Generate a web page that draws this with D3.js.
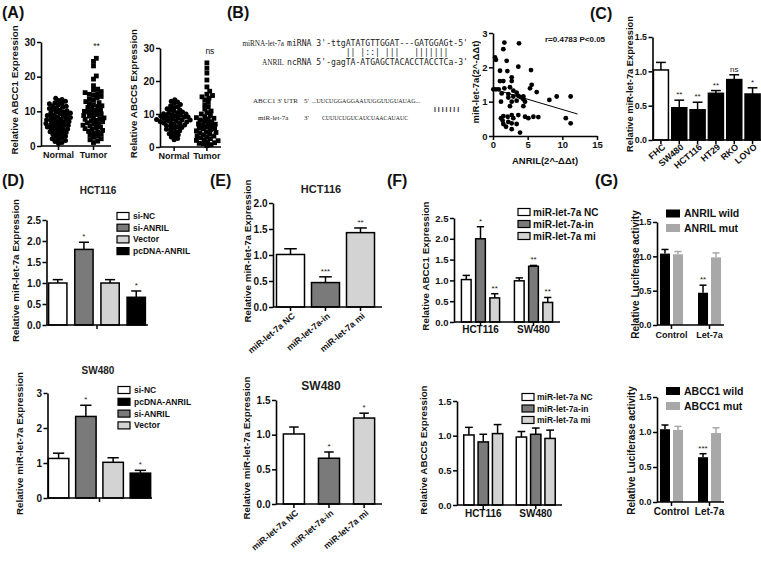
<!DOCTYPE html>
<html><head><meta charset="utf-8">
<script src="https://cdn.jsdelivr.net/npm/d3@7"></script>
<style>body{margin:0;background:#fff} svg text{opacity:0.995}</style>
</head><body>
<script>
// ================= DATA =================
// (A) scatter
const aCats = ["Normal", "Tumor"];
const aTicks = [0, 10, 20, 30];
const abcc1Normal = [13.8,13.4,13.1,12.9,12.5,12.3,12.2,11.9,11.6,11.5,11.2,11.0,10.8,10.5,10.4,10.2,9.9,9.8,9.6,9.5,9.3,9.1,9.0,8.8,8.7,8.5,8.4,8.2,8.0,7.9,7.8,7.6,7.4,7.3,7.1,7.0,6.8,6.7,6.5,6.3,6.2,6.0,5.9,5.7,5.5,5.4,5.2,5.0,4.9,4.7,4.5,4.3,4.1,3.9,3.8,3.6,3.3,3.1,2.8,2.6,2.4,2.1,1.9,1.6,1.3,1.0,0.7];
const abcc1Tumor = [25.3,24.4,23.1,20.2,19.3,17.4,16.4,16.1,15.7,15.4,15.1,14.9,14.6,14.3,13.9,13.5,13.2,12.8,12.5,12.2,11.9,11.6,11.4,11.1,10.8,10.5,10.3,10.0,9.8,9.6,9.3,9.1,8.8,8.6,8.4,8.1,7.9,7.7,7.4,7.2,7.0,6.7,6.5,6.3,6.0,5.8,5.5,5.3,5.0,4.8,4.5,4.2,4.0,3.7,3.4,3.1,2.8,2.5,2.1,1.8,1.4,1.0];
const abcc5Normal = [14.3,13.9,13.6,13.2,12.9,12.5,12.2,11.9,11.6,11.3,11.1,10.8,10.6,10.4,10.2,10.0,9.8,9.7,9.5,9.3,9.1,9.0,8.8,8.6,8.5,8.3,8.1,8.0,7.8,7.6,7.5,7.3,7.1,6.9,6.7,6.5,6.3,6.1,5.9,5.7,5.4,5.2,4.9,4.6,4.3,4.0,3.7,3.4,3.0,2.6,2.2,9.4,8.9,8.2,10.1,7.7];
const abcc5Tumor = [25.5,23.9,22.4,20.3,18.2,16.9,16.0,15.6,15.2,14.8,14.3,13.5,12.8,12.1,11.5,10.9,10.4,10.0,9.6,9.2,8.9,8.5,8.2,7.9,7.6,7.3,7.0,6.7,6.4,6.1,5.8,5.5,5.2,4.9,4.6,4.3,4.0,3.7,3.4,3.1,2.8,2.5,2.2,1.9,1.6,1.3,1.0,0.7,0.4,8.7,6.9,5.6,4.4,3.3,2.0,1.1];
const aSig = ["**", "ns"];

// (B) sequences + correlation
const bMirLabel = "miRNA-let-7a", bMirSeq = "miRNA 3'-ttgATATGTTGGAT---GATGGAGt-5'";
const bPairs = "            || |::| |||   |||||||";
const bAnrilLabel = "ANRIL", bAnrilSeq = "ncRNA 5'-gagTA-ATGAGCTACACCTACCTCa-3'";
const bUtrLabel = "ABCC1 3' UTR", bUtrSeq = "...UUCUGGAGGAAUUGGUUGUAUAG...";
const bUtrPairs = "|||||||";
const bLetLabel = "miR-let-7a", bLetSeq = "CUUUCUGUCAUCUAACAUAUC";
const bX = [0.29,0.43,1.64,1.49,3.75,1.97,1.01,3.65,5.48,2.07,1.0,1.49,2.7,2.7,0.05,0.43,0.82,1.64,2.45,2.93,5.34,5.58,6.3,1.25,2.21,3.41,2.21,2.93,3.65,3.99,4.38,4.38,8.13,9.19,11.2,1.15,2.7,3.41,4.62,2.45,4.38,1.15,1.49,2.12,2.7,2.93,3.65,4.62,5.1,5.82,6.54,1.39,1.49,1.88,2.21,2.7,3.41,2.7,3.9,10.5,11.2];
const bY = [2.29,2.22,2.72,2.53,2.70,2.19,1.90,2.02,1.92,1.89,1.60,1.60,1.60,1.71,1.36,1.36,1.36,1.39,1.42,1.32,1.39,1.49,1.28,1.24,1.22,1.26,1.12,1.15,1.17,1.13,1.15,1.07,1.05,1.15,1.15,1.0,1.0,1.03,1.0,0.87,0.87,0.52,0.58,0.56,0.61,0.52,0.61,0.56,0.52,0.56,0.55,0.45,0.35,0.27,0.41,0.37,0.35,0.20,0.10,0.52,0.37];
const bFitX = [0, 12.2], bFitY = [1.37, 0.64];
const bStat = "r=0.4783 P<0.05";
const bXTicks = [0, 5, 10, 15], bYTicks = [0, 1, 2, 3];

// (C)
const cCats = ["FHC","SW480","HCT116","HT29","RKO","LOVO"];
const cVals = [1.02, 0.47, 0.44, 0.68, 0.88, 0.67];
const cErr  = [0.11, 0.11, 0.11, 0.04, 0.07, 0.09];
const cSig  = ["", "**", "**", "**", "ns", "*"];
const cTicks = [0, 0.5, 1.0, 1.5];

// (D)
const dCats = ["si-NC","si-ANRIL","Vector","pcDNA-ANRIL"];
const dHctVals = [1.0, 1.80, 1.0, 0.66], dHctErr = [0.08, 0.17, 0.08, 0.15], dHctSig = ["","*","","*"];
const dSwVals  = [1.13, 2.33, 1.02, 0.71], dSwErr = [0.15, 0.32, 0.13, 0.08], dSwSig = ["","*","","*"];
const dHctLegend = ["si-NC","si-ANRIL","Vector","pcDNA-ANRIL"];
const dSwLegend  = ["si-NC","pcDNA-ANRIL","si-ANRIL","Vector"];
const dHctTicks = [0,0.5,1.0,1.5,2.0,2.5], dSwTicks = [0,1,2,3];

// (E)
const eCats = ["miR-let-7a NC","miR-let-7a-in","miR-let-7a mi"];
const eHctVals = [1.01, 0.47, 1.43], eHctErr = [0.11, 0.11, 0.09], eHctSig = ["","***","**"];
const eSwVals  = [1.01, 0.66, 1.24], eSwErr = [0.10, 0.09, 0.07], eSwSig = ["","*","*"];
const eHctTicks = [0,0.5,1.0,1.5,2.0], eSwTicks = [0,0.5,1.0,1.5];

// (F)
const fGroups = ["HCT116","SW480"];
const fSeries = ["miR-let-7a NC","miR-let-7a-in","miR-let-7a mi"];
const fAbcc1Vals = [[1.02, 2.0, 0.58],[0.99, 1.34, 0.47]];
const fAbcc1Err  = [[0.10, 0.29, 0.10],[0.07, 0.02, 0.12]];
const fAbcc1Sig  = [["","*","**"],["","**","**"]];
const fAbcc5Vals = [[1.01, 0.91, 1.03],[0.98, 1.02, 0.96]];
const fAbcc5Err  = [[0.11, 0.11, 0.13],[0.08, 0.09, 0.12]];
const fTicks1 = [0,0.5,1.0,1.5,2.0,2.5], fTicks5 = [0,0.5,1.0,1.5];

// (G)
const gGroups = ["Control","Let-7a"];
const gAnrilSeries = ["ANRIL wild","ANRIL mut"];
const gAbccSeries = ["ABCC1 wild","ABCC1 mut"];
const gAnrilVals = [[1.04, 1.03],[0.47, 0.985]], gAnrilErr = [[0.06, 0.04],[0.11, 0.065]], gAnrilSig = [["",""],["**",""]];
const gAbccVals  = [[1.04, 1.03],[0.64, 0.985]], gAbccErr  = [[0.06, 0.05],[0.05, 0.075]], gAbccSig  = [["",""],["***",""]];
const gTicks = [0,0.5,1.0,1.5];

// ================= STYLE =================
const FONT = "'Liberation Sans', Arial, Helvetica, sans-serif";
const WHITE = "#ffffff", DARK = "#7a7a7a", LIGHT = "#d3d3d3", BLACK = "#000000", GMUT = "#a8a8a8";
const fmt1 = d3.format(".1f"), fmt0 = d3.format("d");

const svg = d3.select("body").append("svg").attr("width", 761).attr("height", 562)
  .style("font-family", FONT);

function T(x, y, s, o = {}) {
  const t = svg.append("text").attr("x", x).attr("y", y).text(s)
    .attr("font-size", o.size || 10).attr("font-weight", o.weight || "bold")
    .attr("text-anchor", o.anchor || "start").attr("fill", o.fill || "#111")
    .attr("font-family", o.family || FONT);
  if (o.rot) t.attr("transform", `rotate(${o.rot},${x},${y})`);
  if (o.len) t.attr("textLength", o.len).attr("lengthAdjust", "spacingAndGlyphs");
  if (o.pre) t.attr("xml:space", "preserve").style("white-space", "pre");
  return t;
}
function yAxis(scale, x, ticks, fmt, fs) {
  const g = svg.append("g").attr("transform", `translate(${x},0)`)
    .call(d3.axisLeft(scale).tickValues(ticks).tickFormat(fmt).tickSize(4).tickSizeOuter(0).tickPadding(1.5));
  g.attr("font-family", FONT).attr("font-size", fs);
  g.select(".domain").attr("stroke", "#000").attr("stroke-width", 1.6);
  g.selectAll(".tick line").attr("stroke", "#000").attr("stroke-width", 1.5);
  g.selectAll(".tick text").attr("font-weight", "bold").attr("fill", "#111");
  return g;
}
function xAxisLine(x0, x1, y, tickXs) {
  svg.append("line").attr("x1", x0).attr("x2", x1).attr("y1", y).attr("y2", y)
    .attr("stroke", "#000").attr("stroke-width", 1.6);
  tickXs.forEach(tx => svg.append("line").attr("x1", tx).attr("x2", tx).attr("y1", y).attr("y2", y + 4)
    .attr("stroke", "#000").attr("stroke-width", 1.5));
}
function bar(x, w, yS, v, e, fill, o = {}) {
  const stroke = o.noStroke ? "none" : "#000";
  const ec = o.errColor || "#000";
  const cx = x + w / 2, capW = w * (o.cap || 0.55);
  svg.append("line").attr("x1", cx).attr("x2", cx).attr("y1", yS(v)).attr("y2", yS(v + e))
    .attr("stroke", ec).attr("stroke-width", 1.5);
  svg.append("line").attr("x1", cx - capW / 2).attr("x2", cx + capW / 2).attr("y1", yS(v + e)).attr("y2", yS(v + e))
    .attr("stroke", ec).attr("stroke-width", 1.5);
  svg.append("rect").attr("x", x).attr("y", yS(v)).attr("width", w).attr("height", yS(0) - yS(v))
    .attr("fill", fill).attr("stroke", stroke).attr("stroke-width", 1.5);
  if (o.sig) T(cx, yS(v + e) - 3, o.sig, { size: o.sigSize || 8, weight: "normal", anchor: "middle", fill: "#222" });
}
function legend(x, ys, labels, fills, o = {}) {
  labels.forEach((l, i) => {
    svg.append("rect").attr("x", x).attr("y", ys(i) - (o.h || 7) / 2).attr("width", o.w || 11).attr("height", o.h || 7)
      .attr("fill", fills[i]).attr("stroke", o.noStroke ? "none" : "#000").attr("stroke-width", 1.2);
    T(x + (o.gap || 16), ys(i) + (o.size || 8.5) * 0.36, l, { size: o.size || 8.5 });
  });
}

// ================= PANEL LABELS =================
[["(A)",2,18],["(B)",227,18],["(C)",590,19],["(D)",2,186],["(E)",210,186],["(F)",387,186],["(G)",595,186]]
  .forEach(([s,x,y]) => T(x, y, s, { size: 16 }));

// ================= (A) =================
function swarm(vals, y, cx, d, stepPx) {
  const pts = vals.map(v => ({ v, py: y(v) })).sort((a, b) => a.v - b.v);
  const placed = [];
  pts.forEach(p => {
    for (let i = 0; i < 200; i++) {
      const off = (i % 2 ? 1 : -1) * Math.ceil(i / 2) * stepPx;
      const x = cx + off;
      if (placed.every(q => (q.px - x) ** 2 + (q.py - p.py) ** 2 >= d * d)) { p.px = x; break; }
    }
    placed.push(p);
  });
  return pts;
}
function scatterPanel(x0, x1, yTop, yBot, normal, tumor, pad, sig, ylab, ylabX) {
  const y = d3.scaleLinear().domain([0, 30]).range([yBot, yTop]);
  const x = d3.scalePoint().domain(aCats).range([x0, x1]).padding(pad);
  yAxis(y, x0, aTicks, fmt0, 10);
  xAxisLine(x0, x1, yBot, aCats.map(c => x(c)));
  swarm(normal, y, x(aCats[0]), 3.6, 0.7).forEach(p =>
    svg.append("circle").attr("cx", p.px).attr("cy", p.py).attr("r", 2.5).attr("fill", "#000"));
  swarm(tumor, y, x(aCats[1]), 4.0, 0.7).forEach(p =>
    svg.append("rect").attr("x", p.px - 2.4).attr("y", p.py - 2.4).attr("width", 4.8).attr("height", 4.8).attr("fill", "#000"));
  aCats.forEach(c => T(x(c), yBot + 12, c, { size: 9, anchor: "middle" }));
  T(x(aCats[1]) + 3, y(d3.max(tumor)) - 9, sig, { size: 8.5, weight: "normal", anchor: "middle" });
  T(ylabX, (yTop + yBot) / 2 - 4, ylab, { size: 9.8, anchor: "middle", rot: -90 });
}
scatterPanel(41, 111, 42, 146, abcc1Normal, abcc1Tumor, 0.5, aSig[0], "Relative ABCC1 Expression", 18);
scatterPanel(160, 221, 48, 147, abcc5Normal, abcc5Tumor, 0.43, aSig[1], "Relative ABCC5 Expression", 137);

// ================= (B) =================
const SERIF = "'Liberation Serif', 'DejaVu Serif', serif";
const MONO = "'DejaVu Sans Mono', 'Liberation Mono', monospace";
const seqCol = "#222";
T(284, 46, bMirLabel, { size: 7.2, weight: "normal", family: SERIF, fill: seqCol, anchor: "end" });
T(287, 46, bMirSeq, { size: 8.15, weight: "normal", family: MONO, fill: seqCol, pre: true });
T(287, 55, bPairs, { size: 8.15, weight: "normal", family: MONO, fill: seqCol, pre: true });
T(284, 65, bAnrilLabel, { size: 7.2, weight: "normal", family: SERIF, fill: seqCol, anchor: "end" });
T(287, 65, bAnrilSeq, { size: 8.15, weight: "normal", family: MONO, fill: seqCol, pre: true });
T(253, 103, bUtrLabel, { size: 7, weight: "normal", family: SERIF, fill: seqCol });
T(304, 103, "5'", { size: 7, weight: "normal", family: SERIF, fill: seqCol });
T(312, 103, bUtrSeq, { size: 7, weight: "normal", family: SERIF, fill: seqCol, len: 108 });
T(433, 111, bUtrPairs, { size: 7, weight: "normal", family: SERIF, fill: seqCol, len: 27 });
T(258, 120, bLetLabel, { size: 7, weight: "normal", family: SERIF, fill: seqCol });
T(304, 120, "3'", { size: 7, weight: "normal", family: SERIF, fill: seqCol });
T(322, 120, bLetSeq, { size: 7, weight: "normal", family: SERIF, fill: seqCol, len: 86 });

const bXs = d3.scaleLinear().domain([0, 15]).range([493, 597]);
const bYs = d3.scaleLinear().domain([0, 3]).range([136, 33]);
yAxis(bYs, 493, bYTicks, fmt0, 9.5);
{
  const g = svg.append("g").attr("transform", "translate(0,136)")
    .call(d3.axisBottom(bXs).tickValues(bXTicks).tickFormat(fmt0).tickSize(4).tickSizeOuter(0).tickPadding(1.5));
  g.attr("font-family", FONT).attr("font-size", 9.5);
  g.select(".domain").attr("stroke", "#000").attr("stroke-width", 1.6);
  g.selectAll(".tick line").attr("stroke", "#000").attr("stroke-width", 1.5);
  g.selectAll(".tick text").attr("font-weight", "bold").attr("fill", "#111");
}
bX.forEach((v, i) => svg.append("circle").attr("cx", bXs(v)).attr("cy", bYs(bY[i])).attr("r", 2.4).attr("fill", "#000"));
svg.append("line").attr("x1", bXs(bFitX[0])).attr("y1", bYs(bFitY[0])).attr("x2", bXs(bFitX[1])).attr("y2", bYs(bFitY[1]))
  .attr("stroke", "#000").attr("stroke-width", 1);
T(545, 42, bStat, { size: 8 });
T(545, 164, "ANRIL(2^-ΔΔt)", { size: 9.5, anchor: "middle" });
T(479, 82, "miR-let-7a(2^-ΔΔt)", { size: 9.5, anchor: "middle", rot: -90 });

// ================= (C) =================
{
  const y = d3.scaleLinear().domain([0, 1.5]).range([140, 37]);
  const x = d3.scaleBand().domain(cCats).range([652.5, 761]).paddingInner(0.18).paddingOuter(0.05);
  const fills = [WHITE, BLACK, BLACK, BLACK, BLACK, BLACK];
  cCats.forEach((c, i) => bar(x(c), x.bandwidth(), y, cVals[i], cErr[i], fills[i], { sig: cSig[i], cap: 0.65 }));
  yAxis(y, 652.5, cTicks, fmt1, 8.8);
  xAxisLine(652.5, 761, 140, cCats.map(c => x(c) + x.bandwidth() / 2));
  cCats.forEach(c => {
    const cx = x(c) + x.bandwidth() / 2 + 5, cy = 148;
    T(cx, cy, c, { size: 9, anchor: "end", rot: -40 });
  });
  T(632.5, 84, "Relative miR-let-7a Expression", { size: 9.3, anchor: "middle", rot: -90 });
}

// ================= (D) =================
function dPanel(top, bot, dom, ticks, fmt, x0, x1, pi, po, vals, errs, sigs, title, titleY, legendLabels, legX, legY0, legStep, ylabX) {
  const y = d3.scaleLinear().domain(dom).range([bot, top]);
  const x = d3.scaleBand().domain(dCats).range([x0, x1]).paddingInner(pi).paddingOuter(po);
  const fillOf = { "si-NC": WHITE, "si-ANRIL": DARK, "Vector": LIGHT, "pcDNA-ANRIL": BLACK };
  dCats.forEach((c, i) => bar(x(c), x.bandwidth(), y, vals[i], errs[i], fillOf[c], { sig: sigs[i], cap: 0.55 }));
  yAxis(y, x0 + 0.5, ticks, fmt, 10);
  xAxisLine(x0 + 0.5, x1, bot, [(x0 + x1) / 2]);
  T(98, titleY, title, { size: 10, anchor: "middle", fill: "#222" });
  const ly = d3.scaleLinear().domain([0, 1]).range([legY0, legY0 + legStep]);
  legend(legX, ly, legendLabels, legendLabels.map(l => fillOf[l]), { size: 8.5, w: 12, h: 7, gap: 16 });
  T(ylabX, (top + bot) / 2 - 2, "Relative miR-let-7a Expression", { size: 9.8, anchor: "middle", rot: -90 });
}
dPanel(220, 325, [0, 2.5], dHctTicks, fmt1, 46, 148, 0.3, 0.1, dHctVals, dHctErr, dHctSig, "HCT116", 194, dHctLegend, 117, 216, 11.7, 19);
dPanel(393, 498, [0, 3], dSwTicks, fmt0, 47, 152, 0.25, 0.05, dSwVals, dSwErr, dSwSig, "SW480", 374, dSwLegend, 118, 390, 11.8, 23);

// ================= (E) =================
function ePanel(top, bot, dom, ticks, x0, x1, pi, po, vals, errs, sigs, title, titleY, titleSize, ylabX, labSize) {
  const y = d3.scaleLinear().domain(dom).range([bot, top]);
  const x = d3.scaleBand().domain(eCats).range([x0, x1]).paddingInner(pi).paddingOuter(po);
  const fills = [WHITE, DARK, LIGHT];
  eCats.forEach((c, i) => bar(x(c), x.bandwidth(), y, vals[i], errs[i], fills[i], { sig: sigs[i], cap: 0.45 }));
  yAxis(y, x0, ticks, fmt1, 10);
  xAxisLine(x0, 382, bot, eCats.map(c => x(c) + x.bandwidth() / 2));
  eCats.forEach(c => T(x(c) + x.bandwidth() / 2 + 5, bot + 10, c, { size: labSize, anchor: "end", rot: -40 }));
  T(321, titleY, title, { size: titleSize, anchor: "middle", fill: "#222" });
  T(ylabX, (top + bot) / 2 - 4, "Relative miR-let-7a Expression", { size: 9.8, anchor: "middle", rot: -90 });
}
ePanel(203, 307, [0, 2], eHctTicks, 273, 378, 0.2, 0.1, eHctVals, eHctErr, eHctSig, "HCT116", 193, 11, 251, 8.8);
ePanel(400, 504, [0, 1.5], eSwTicks, 276, 382, 0.4, 0.21, eSwVals, eSwErr, eSwSig, "SW480", 390, 12, 249.5, 8.8);

// ================= (F) =================
function fPanel(top, bot, dom, ticks, x0, x1, gp, sp, vals, errs, sigs, legX, legY0, legStep, legSize, labOff) {
  const y = d3.scaleLinear().domain(dom).range([bot, top]);
  const gx = d3.scaleBand().domain(fGroups).range([x0, x1]).paddingInner(gp).paddingOuter(gp / 2);
  const sx = d3.scaleBand().domain(fSeries).range([0, gx.bandwidth()]).paddingInner(sp);
  const fills = [WHITE, DARK, LIGHT];
  fGroups.forEach((g, gi) => fSeries.forEach((s, si) =>
    bar(gx(g) + sx(s), sx.bandwidth(), y, vals[gi][si], errs[gi][si], fills[si], { sig: sigs ? sigs[gi][si] : "", cap: 0.75 })));
  yAxis(y, x0, ticks, fmt1, 9.5);
  xAxisLine(x0, x1, bot, fGroups.map(g => gx(g) + gx.bandwidth() / 2));
  fGroups.forEach(g => T(gx(g) + gx.bandwidth() / 2, bot + labOff, g, { size: 10, anchor: "middle" }));
  const ly = d3.scaleLinear().domain([0, 1]).range([legY0, legY0 + legStep]);
  legend(legX, ly, fSeries, fills, { size: legSize, w: 12, h: 7, gap: 15 });
}
fPanel(218, 322, [0, 2.5], fTicks1, 454, 560, 0.28, 0.32, fAbcc1Vals, fAbcc1Err, fAbcc1Sig, 518, 212, 12, 10, 11);
T(429, 266, "Relative ABCC1 Expression", { size: 9.8, anchor: "middle", rot: -90 });
fPanel(401, 505, [0, 1.5], fTicks5, 457, 562, 0.257, 0.28, fAbcc5Vals, fAbcc5Err, null, 522, 397, 11.5, 8.5, 12);
T(427, 450, "Relative ABCC5 Expression", { size: 9.8, anchor: "middle", rot: -90 });

// ================= (G) =================
function gPanel(top, bot, vals, errs, sigs, series, legY0, legStep, ylabX, labSize) {
  const y = d3.scaleLinear().domain([0, 1.5]).range([bot, top]);
  const gx = d3.scaleBand().domain(gGroups).range([657, 724]).paddingInner(0.395).paddingOuter(0.078);
  const sx = d3.scaleBand().domain(series).range([0, gx.bandwidth()]).paddingInner(0.23);
  const fills = [BLACK, GMUT];
  gGroups.forEach((g, gi) => series.forEach((s, si) =>
    bar(gx(g) + sx(s), sx.bandwidth(), y, vals[gi][si], errs[gi][si], fills[si],
      { sig: sigs[gi][si], noStroke: true, errColor: fills[si], cap: 0.7 })));
  yAxis(y, 657, gTicks, fmt1, 9);
  xAxisLine(657, 724, bot, gGroups.map(g => gx(g) + gx.bandwidth() / 2));
  gGroups.forEach(g => T(gx(g) + gx.bandwidth() / 2, bot + 13, g, { size: labSize, anchor: "middle" }));
  const ly = d3.scaleLinear().domain([0, 1]).range([legY0, legY0 + legStep]);
  legend(666, ly, series, fills, { size: 10.5, w: 14, h: 8, gap: 18, noStroke: true });
  T(ylabX, (top + bot) / 2 + 1, "Relative Luciferase activity", { size: 10, anchor: "middle", rot: -90 });
}
gPanel(222, 325, gAnrilVals, gAnrilErr, gAnrilSig, gAnrilSeries, 213.5, 14.5, 639, 9);
gPanel(397, 502, gAbccVals, gAbccErr, gAbccSig, gAbccSeries, 391, 15, 634.5, 10);
</script>
</body></html>
